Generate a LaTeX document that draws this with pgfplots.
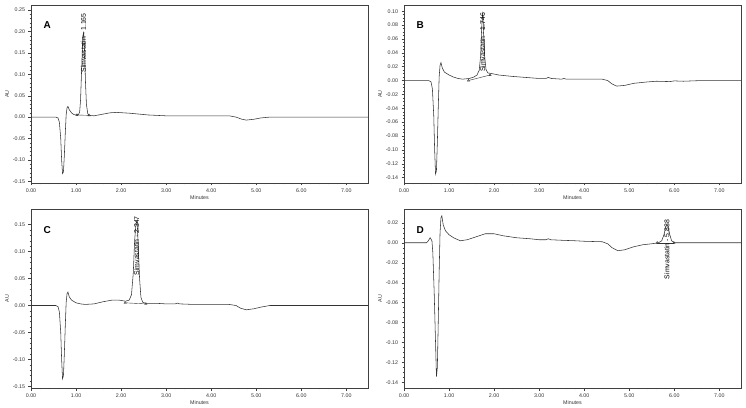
\documentclass[border=0pt]{standalone}
\usepackage{fontspec}
\setmainfont{Liberation Sans}
\usepackage{pgfplots}
\pgfplotsset{compat=1.18}
\pgfplotsset{
  chrom/.style={
    scale only axis, anchor=south west,
    width=337pt,
    xmin=0, xmax=7.48,
    xtick={0,1,2,3,4,5,6,7},
    minor x tick num=4,
    minor y tick num=4,
    xtick pos=bottom, ytick pos=left,
    tick align=outside,
    major tick length=2.5pt, minor tick length=1.3pt,
    tick style={black!75, line width=0.4pt},
    axis line style={black!75, line width=0.5pt},
    every tick label/.append style={font=\fontsize{5.3}{6}\selectfont, text=black!80},
    /pgf/number format/assume math mode=true,
    xticklabel style={/pgf/number format/.cd, fixed, fixed zerofill, precision=2},
    yticklabel style={/pgf/number format/.cd, fixed, fixed zerofill, precision=2},
    xlabel={Minutes}, ylabel={AU},
    label style={font=\fontsize{5.3}{6}\selectfont, text=black!80},
    xlabel style={yshift=4pt},
    ylabel style={yshift=-3pt},
    trace/.style={black!80, line width=0.55pt, mark=none},
    integ/.style={black!80, line width=0.4pt, mark=triangle, mark size=1.3pt, mark options={solid}},
  },
}
\newcommand{\plab}[1]{\fontsize{6.9}{8}\selectfont #1}
\begin{document}
\begin{tikzpicture}
\path[use as bounding box] (0,0) rectangle (746pt,407pt);
% ---------------- A ----------------
\begin{axis}[chrom, at={(31pt,224pt)}, height=178pt,
  ymin=-0.154, ymax=0.262,
  ytick={-0.15,-0.10,-0.05,0,0.05,0.10,0.15,0.20,0.25}]
\addplot[trace] coordinates {
(0,0) (0.55,0) (0.60,-0.002) (0.63,-0.012) (0.66,-0.05) (0.68,-0.10) (0.70,-0.132) (0.72,-0.128) (0.74,-0.09) (0.76,-0.04) (0.78,0.005) (0.80,0.022) (0.82,0.025) (0.85,0.017) (0.90,0.010) (0.95,0.006) (1.00,0.005) (1.05,0.005) (1.08,0.012) (1.10,0.04) (1.12,0.10) (1.14,0.16) (1.155,0.192) (1.165,0.197) (1.175,0.19) (1.19,0.15) (1.21,0.08) (1.23,0.03) (1.26,0.008) (1.30,0.004) (1.40,0.003) (1.55,0.006) (1.75,0.010) (1.90,0.011) (2.20,0.009) (2.60,0.005) (3.00,0.003) (3.50,0.003) (4.00,0.003) (4.40,0.003) (4.55,0.000) (4.68,-0.005) (4.78,-0.007) (4.95,-0.005) (5.10,-0.002) (5.30,0.000) (7.48,0)};
\addplot[integ] coordinates {(1.02,0.005) (1.29,0.004)};
\node[rotate=90, anchor=east, inner sep=0pt] at (axis cs:1.165,0.243) {\plab{Simvastatin - 1.165}};
\node[font=\fontsize{10}{12}\selectfont\bfseries] at (rel axis cs:0.048,0.885) {A};
\end{axis}
% ---------------- B ----------------
\begin{axis}[chrom, at={(404pt,224pt)}, height=178pt,
  ymin=-0.1478, ymax=0.109, minor y tick num=3,
  ytick={-0.14,-0.12,-0.10,-0.08,-0.06,-0.04,-0.02,0,0.02,0.04,0.06,0.08,0.10}]
\addplot[trace] coordinates {
(0,0) (0.55,0) (0.60,-0.002) (0.63,-0.012) (0.66,-0.05) (0.68,-0.10) (0.70,-0.135) (0.72,-0.13) (0.74,-0.09) (0.76,-0.04) (0.78,0.005) (0.80,0.022) (0.82,0.026) (0.85,0.018) (0.90,0.012) (1.00,0.008) (1.10,0.005) (1.20,0.003) (1.30,0.002) (1.45,0.003) (1.55,0.005) (1.62,0.008) (1.67,0.015) (1.70,0.035) (1.72,0.07) (1.735,0.09) (1.746,0.096) (1.755,0.09) (1.77,0.065) (1.79,0.035) (1.82,0.016) (1.86,0.011) (1.95,0.010) (2.10,0.008) (2.40,0.006) (2.80,0.004) (3.00,0.003) (3.15,0.003) (3.20,0.0045) (3.27,0.003) (3.50,0.002) (3.55,0.003) (3.60,0.002) (4.00,0.002) (4.40,0.002) (4.52,0.000) (4.62,-0.005) (4.72,-0.008) (4.90,-0.007) (5.10,-0.004) (5.40,-0.002) (5.60,-0.001) (5.90,-0.0015) (6.00,-0.0005) (6.20,-0.001) (6.60,0.000) (7.48,0)};
\addplot[integ] coordinates {(1.43,0.0) (1.91,0.008)};
\node[rotate=90, anchor=east, inner sep=0pt] at (axis cs:1.746,0.098) {\plab{Simvastatin - 1.746}};
\node[font=\fontsize{10}{12}\selectfont\bfseries] at (rel axis cs:0.048,0.885) {B};
\end{axis}
% ---------------- C ----------------
\begin{axis}[chrom, at={(31pt,19pt)}, height=179pt,
  ymin=-0.153, ymax=0.179,
  ytick={-0.15,-0.10,-0.05,0,0.05,0.10,0.15}]
\addplot[trace] coordinates {
(0,0) (0.55,0) (0.60,-0.002) (0.63,-0.012) (0.66,-0.05) (0.68,-0.10) (0.70,-0.136) (0.72,-0.13) (0.74,-0.09) (0.76,-0.04) (0.78,0.005) (0.80,0.022) (0.82,0.025) (0.85,0.016) (0.90,0.010) (1.00,0.005) (1.10,0.003) (1.20,0.002) (1.40,0.003) (1.60,0.007) (1.80,0.010) (1.95,0.010) (2.10,0.008) (2.18,0.010) (2.23,0.02) (2.27,0.06) (2.30,0.12) (2.33,0.152) (2.347,0.156) (2.36,0.15) (2.38,0.11) (2.41,0.05) (2.44,0.015) (2.48,0.006) (2.55,0.004) (2.80,0.004) (3.00,0.003) (3.20,0.003) (3.25,0.0045) (3.30,0.003) (3.60,0.002) (4.00,0.002) (4.40,0.002) (4.55,0.000) (4.65,-0.005) (4.78,-0.008) (4.95,-0.006) (5.10,-0.003) (5.30,0.000) (7.48,0)};
\addplot[integ] coordinates {(2.09,0.005) (2.55,0.003)};
\node[rotate=90, anchor=east, inner sep=0pt] at (axis cs:2.347,0.166) {\plab{Simvastatin - 2.347}};
\node[font=\fontsize{10}{12}\selectfont\bfseries] at (rel axis cs:0.048,0.885) {C};
\end{axis}
% ---------------- D ----------------
\begin{axis}[chrom, at={(404pt,19pt)}, height=179pt,
  ymin=-0.1454, ymax=0.0338, minor y tick num=3,
  ytick={-0.14,-0.12,-0.10,-0.08,-0.06,-0.04,-0.02,0,0.02}]
\addplot[trace] coordinates {
(0,0) (0.50,0) (0.54,0.002) (0.58,0.005) (0.62,0.002) (0.64,-0.01) (0.67,-0.05) (0.70,-0.10) (0.72,-0.134) (0.74,-0.125) (0.76,-0.08) (0.78,-0.03) (0.80,0.01) (0.82,0.025) (0.84,0.027) (0.87,0.018) (0.92,0.012) (1.00,0.008) (1.10,0.005) (1.25,0.002) (1.40,0.003) (1.60,0.006) (1.80,0.009) (2.00,0.009) (2.20,0.007) (2.50,0.005) (2.80,0.004) (3.00,0.003) (3.15,0.003) (3.20,0.004) (3.26,0.003) (3.50,0.0025) (3.80,0.002) (4.00,0.0015) (4.40,0.001) (4.52,-0.001) (4.62,-0.005) (4.75,-0.008) (4.90,-0.007) (5.10,-0.004) (5.30,-0.002) (5.50,-0.001) (5.65,0.000) (5.72,0.002) (5.77,0.008) (5.81,0.016) (5.838,0.018) (5.86,0.016) (5.90,0.008) (5.94,0.002) (6.00,0.000) (7.48,0)};
\addplot[integ] coordinates {(5.62,0.0) (5.99,0.0)};
\node[rotate=90, anchor=east, inner sep=0pt] at (axis cs:5.838,0.023) {\plab{Simvastatin - 5.838}};
\node[font=\fontsize{10}{12}\selectfont\bfseries] at (rel axis cs:0.048,0.885) {D};
\end{axis}
\end{tikzpicture}
\end{document}
